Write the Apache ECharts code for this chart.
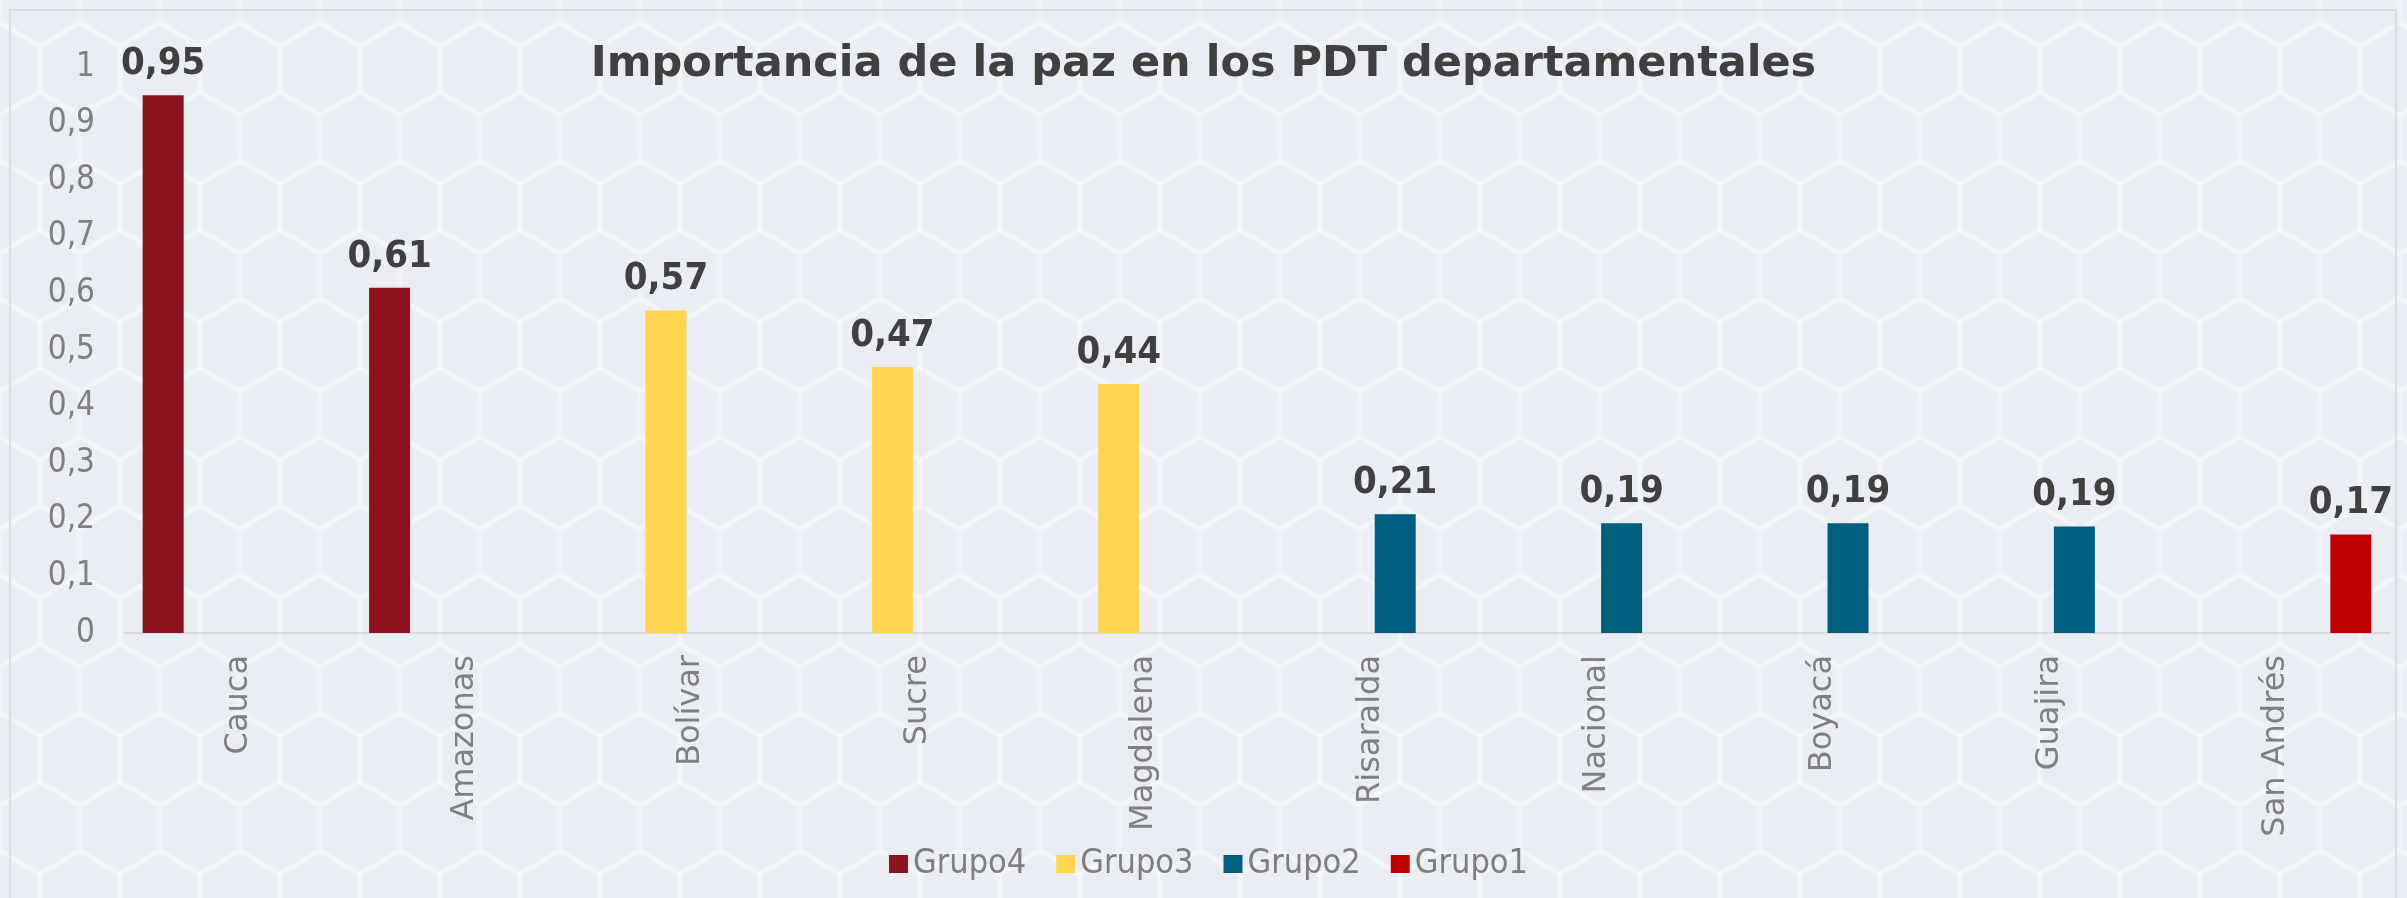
<!DOCTYPE html>
<html>
<head>
<meta charset="utf-8">
<script src="https://cdn.jsdelivr.net/npm/echarts@6/dist/echarts.min.js"></script>
<style>
  html, body { margin: 0; padding: 0; background: #eef1f7; }
  #chart { width: 2407px; height: 898px; }
</style>
</head>
<body>
<div id="chart"></div>
<script>
// datos
const categorias = ['Cauca', 'Amazonas', 'Bolívar', 'Sucre', 'Magdalena', 'Risaralda', 'Nacional', 'Boyacá', 'Guajira', 'San Andrés']
const valores = [0.95, 0.61, 0.57, 0.47, 0.44, 0.21, 0.194, 0.194, 0.188, 0.174]
const grupoDe = ['Grupo4', 'Grupo4', 'Grupo3', 'Grupo3', 'Grupo3', 'Grupo2', 'Grupo2', 'Grupo2', 'Grupo2', 'Grupo1']
const grupos = ['Grupo4', 'Grupo3', 'Grupo2', 'Grupo1']
const colores = ['#8c1420', '#ffd44f', '#005e7e', '#c00000']
const ticksY = [0, 0.1, 0.2, 0.3, 0.4, 0.5, 0.6, 0.7, 0.8, 0.9, 1]

const fuenteAngosta = "'Liberation Sans Narrow', 'DejaVu Sans Condensed', 'Roboto Condensed', sans-serif"

// fondo con hexagonos suaves
function patronHex () {
  const r = 46
  const w = Math.sqrt(3) * r
  const c = document.createElement('canvas')
  c.width = Math.round(w)
  c.height = r * 3
  const ctx = c.getContext('2d')
  ctx.fillStyle = '#eaedf4'
  ctx.fillRect(0, 0, c.width, c.height)
  ctx.strokeStyle = 'rgba(255,255,255,0.22)'
  ctx.lineWidth = 5
  const hex = (cx, cy) => {
    ctx.beginPath()
    for (let i = 0; i < 6; i++) {
      const a = Math.PI / 3 * i + Math.PI / 6
      const px = cx + r * Math.cos(a)
      const py = cy + r * Math.sin(a)
      if (i === 0) ctx.moveTo(px, py)
      else ctx.lineTo(px, py)
    }
    ctx.closePath()
    ctx.stroke()
  }
  hex(w / 2, 0); hex(0, r * 1.5); hex(w, r * 1.5); hex(w / 2, r * 3)
  return c
}

const series = grupos.map((g, gi) => ({
  name: g,
  type: 'bar',
  barWidth: 41,
  barGap: '22%',
  itemStyle: { color: colores[gi] },
  label: {
    show: true,
    position: 'top',
    distance: 12,
    fontFamily: fuenteAngosta,
    fontWeight: 'bold',
    fontSize: 38,
    color: '#404040',
    formatter: p => p.value.toFixed(2).replace('.', ',')
  },
  data: valores.map((v, i) => (grupoDe[i] === g ? v : '-'))
}))

const chart = echarts.init(document.getElementById('chart'))
chart.setOption({
  backgroundColor: { image: patronHex(), repeat: 'repeat' },
  animation: false,
  title: {
    text: 'Importancia de la paz en los PDT departamentales',
    left: 'center',
    top: 38,
    textStyle: {
      fontFamily: "'DejaVu Sans', sans-serif",
      fontWeight: 'bold',
      fontSize: 43,
      color: '#404040'
    }
  },
  graphic: [{
    type: 'rect',
    shape: { x: 10, y: 10, width: 2386, height: 900 },
    style: { fill: 'none', stroke: '#dadde2', lineWidth: 2 },
    silent: true
  }],
  legend: {
    data: grupos,
    left: 884,
    top: 842,
    itemWidth: 19,
    itemHeight: 18,
    itemGap: 30,
    icon: 'rect',
    textStyle: { fontFamily: fuenteAngosta, fontSize: 34, color: '#7f7f7f' }
  },
  grid: { left: 125, right: 18, top: 67, bottom: 265 },
  xAxis: {
    type: 'category',
    data: categorias,
    axisLine: { lineStyle: { color: '#d9d9d9', width: 2 } },
    axisTick: { show: false },
    axisLabel: {
      rotate: 90,
      margin: 22,
      interval: 0,
      fontFamily: "'DejaVu Sans', sans-serif",
      fontSize: 32,
      color: '#808080'
    }
  },
  yAxis: {
    type: 'value',
    min: ticksY[0],
    max: ticksY[ticksY.length - 1],
    interval: 0.1,
    splitLine: { show: false },
    axisLine: { show: false },
    axisTick: { show: false },
    axisLabel: {
      margin: 30,
      fontFamily: fuenteAngosta,
      fontSize: 33,
      color: '#808080',
      formatter: v => String(Math.round(v * 10) / 10).replace('.', ',')
    }
  },
  series: series
})
</script>
</body>
</html>
